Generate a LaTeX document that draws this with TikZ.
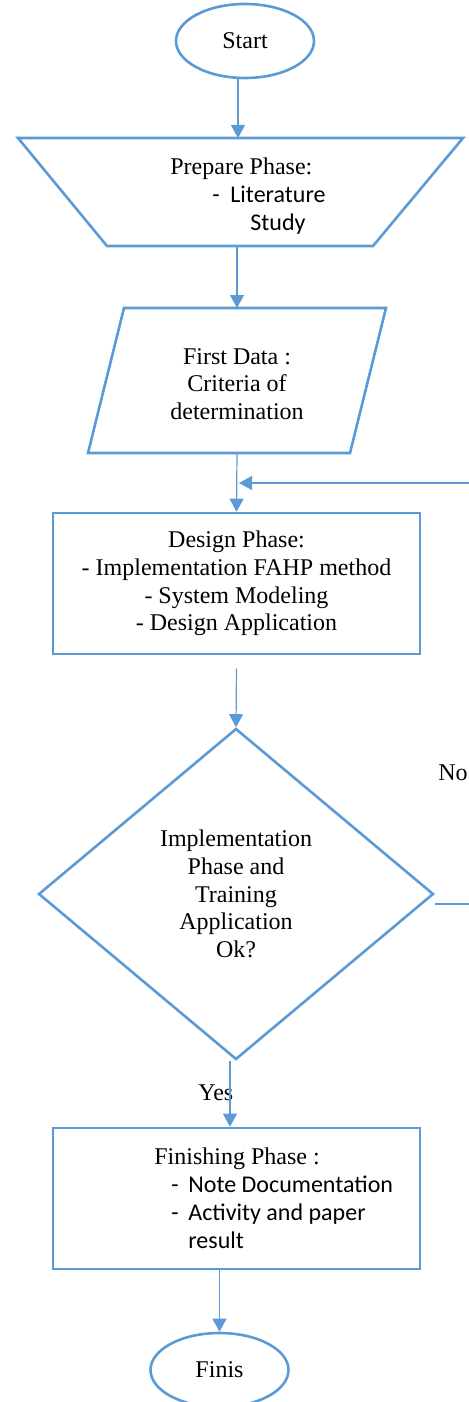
\documentclass[tikz,border=0pt]{standalone}
\usepackage{fontspec}
\setmainfont{Liberation Serif}
\newfontfamily\listfont{Carlito}
\usetikzlibrary{arrows.meta,shapes.geometric}
\definecolor{flowblue}{RGB}{91,155,213}

\begin{document}
\begin{tikzpicture}
  [x=0.5pt, y=-0.5pt,
    every node/.style={font=\fontsize{12}{13.9}\selectfont, inner sep=0pt},
    term/.style={ellipse, draw=flowblue, line width=1.3pt, minimum width=69pt, minimum height=37pt},
    phase/.style={rectangle, draw=flowblue, line width=1.3pt, minimum width=183.5pt, minimum height=70.5pt, align=center},
    decision/.style={diamond, draw=flowblue, line width=1.3pt, minimum width=197.5pt, minimum height=165.5pt, align=center},
    shapeline/.style={draw=flowblue, line width=1.3pt, line join=miter},
    flow/.style={draw=flowblue, line width=0.6pt, -{Triangle[width=7pt,length=6.5pt]}},
]
\useasboundingbox (0,0) rectangle (468,1402);

\node[term] (start) at (245,41) {Start};

\draw[shapeline] (18,138) -- (463,138) -- (373,246) -- (107,246) -- cycle;
\coordinate (prepTop) at (238,138);
\coordinate (prepBot) at (237,246);
\node[anchor=base west, align=left] (prep) at (170,230)
  {Prepare Phase:\\
   {\listfont\hspace*{21pt}\makebox[9pt][l]{-}Literature}\\
   {\listfont\hspace*{40pt}Study}};

\draw[shapeline] (124,308) -- (386,308) -- (350,453) -- (88,453) -- cycle;
\coordinate (dataTop) at (237,308);
\coordinate (dataBot) at (237,453);
\node[align=center] (data) at (237,384) {First Data :\\ Criteria of\\ determination};

\node[phase] (design) at (236.5,583.5)
  {Design Phase:\\ - Implementation FAHP method\\ - System Modeling\\ - Design Application};

\node[decision] (check) at (236,894)
  {Implementation\\ Phase and\\ Training\\ Application\\ Ok?};
\node[anchor=base west] (no) at (438,780) {No};
\node[anchor=base west] (yes) at (198,1100) {Yes};

\node[phase] (finish) at (236.5,1198.5) {};
\node[anchor=base west, align=left] (finishText) at (154,1248)
  {Finishing Phase :\\
   {\listfont\hspace*{8.5pt}\makebox[8.5pt][l]{-}Note Documentation}\\
   {\listfont\hspace*{8.5pt}\makebox[8.5pt][l]{-}Activity and paper}\\
   {\listfont\hspace*{17pt}result}};

\node[term] (finis) at (219.5,1370) {Finis};

\coordinate (loop) at (480,483);
\coordinate (fbTip) at (239,483);

\draw[flow] (prepTop |- start.south) -- (prepTop);
\draw[flow] (prepBot) -- (dataTop);
\draw[flow] (dataBot) -- (design.north);
\draw[flow] ([yshift=-6.5pt]design.south) -- (check.north);
\draw[flow] ([yshift=-5pt]check.east) -| (loop) -- (fbTip);
\draw[flow] ([xshift=-3pt]check.south) coordinate (yesFrom) -- (yesFrom |- finish.north);
\draw[flow] (finis.north |- finish.south) -- (finis.north);
\end{tikzpicture}
\end{document}
